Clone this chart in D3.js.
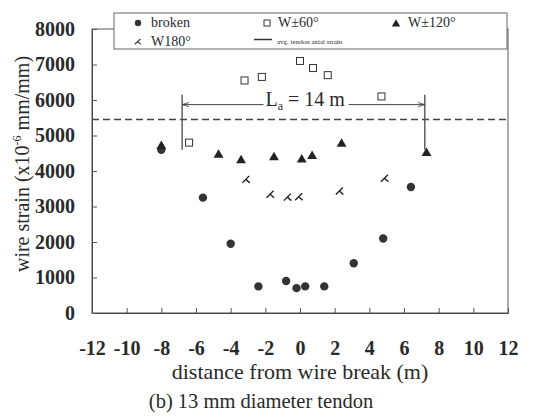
<!DOCTYPE html>
<html><head><meta charset="utf-8">
<script src="https://cdn.jsdelivr.net/npm/d3@7"></script>
<style>body{margin:0;background:#fff}svg{display:block}</style>
</head><body>
<svg id="c" width="555" height="420"></svg>
<script>
const xTicks = [-12,-10,-8,-6,-4,-2,0,2,4,6,8,10,12];
const yTicks = [0,1000,2000,3000,4000,5000,6000,7000,8000];
const brokenX = [-8.0,-5.6,-4.0,-2.4,-0.8,-0.2,0.3,1.4,3.1,4.8,6.4];
const brokenY = [4600,3250,1950,750,900,700,750,750,1400,2100,3550];
const w60X = [-6.4,-3.2,-2.2,0,0.75,1.6,4.7];
const w60Y = [4800,6550,6650,7100,6900,6700,6100];
const w120X = [-8.0,-4.7,-3.4,-1.5,0.1,0.7,2.4,7.3];
const w120Y = [4700,4450,4300,4380,4320,4420,4760,4500];
const w180X = [-3.1,-1.7,-0.7,-0.05,2.3,4.9];
const w180Y = [3750,3330,3250,3260,3420,3780];
const avgStrain = [5450];
const laRange = [-6.8, 7.2];
const laY = [4600, 6150, 5870];

const svg = d3.select("#c");
const x = d3.scaleLinear().domain([-12,12]).range([92,508]);
const y = d3.scaleLinear().domain([0,8000]).range([313,29]);
const serif = "'Liberation Serif','Times New Roman',serif";
const ink = "#2a2a2a";
const fmt = d => String(d);

// frame
svg.append("rect").attr("x",92).attr("y",29).attr("width",416).attr("height",284)
  .attr("fill","none").attr("stroke","#555").attr("stroke-width",1);

// axes
const xa = svg.append("g").attr("transform","translate(0,313)")
  .call(d3.axisBottom(x).tickValues(xTicks).tickSize(-5).tickPadding(28).tickFormat(fmt));
const ya = svg.append("g").attr("transform","translate(92,0)")
  .call(d3.axisLeft(y).tickValues(yTicks).tickSize(-5).tickPadding(17).tickFormat(fmt));
[xa,ya].forEach(a=>{
  a.select(".domain").attr("stroke","#444");
  a.selectAll(".tick line").attr("stroke","#555");
  a.selectAll("text").attr("font-family",serif).attr("font-weight","bold")
   .attr("font-size",20).attr("fill",ink);
});

// avg dashed line
svg.append("line").attr("x1",x(-12)).attr("x2",x(12)).attr("y1",y(avgStrain[0])).attr("y2",y(avgStrain[0]))
  .attr("stroke","#444").attr("stroke-width",1.6).attr("stroke-dasharray","7,4");

// La annotation
svg.append("defs").html('<marker id="ar" viewBox="0 0 10 10" refX="10" refY="5" markerWidth="7" markerHeight="7" orient="auto-start-reverse"><path d="M0,2 L10,5 L0,8" fill="none" stroke="#444" stroke-width="1.2"/></marker>');
[laRange[0],laRange[1]].forEach(v=>{
  svg.append("line").attr("x1",x(v)).attr("x2",x(v)).attr("y1",y(laY[1])).attr("y2",y(laY[0]))
    .attr("stroke","#555").attr("stroke-width",1.4);
});
svg.append("line").attr("x1",x(-2.1)).attr("x2",x(laRange[0])).attr("y1",y(laY[2])).attr("y2",y(laY[2]))
  .attr("stroke","#444").attr("stroke-width",1).attr("marker-end","url(#ar)");
svg.append("line").attr("x1",x(2.8)).attr("x2",x(laRange[1])).attr("y1",y(laY[2])).attr("y2",y(laY[2]))
  .attr("stroke","#444").attr("stroke-width",1).attr("marker-end","url(#ar)");
const la = svg.append("text").attr("x",x(0.3)).attr("y",y(laY[2])+1).attr("text-anchor","middle")
  .attr("font-family",serif).attr("font-size",20).attr("fill",ink);
la.append("tspan").text("L");
la.append("tspan").attr("font-size",12).attr("dy",4).text("a");
la.append("tspan").attr("dy",-4).text(" = 14 m");

// markers
const W180 = "M-4,3 L3,-4 M-0.5,-0.5 L3.5,3";
svg.append("g").selectAll("circle").data(brokenX).join("circle")
  .attr("cx",(d)=>x(d)).attr("cy",(d,i)=>y(brokenY[i])).attr("r",4.2).attr("fill","#333");
svg.append("g").selectAll("rect").data(w60X).join("rect")
  .attr("x",d=>x(d)-3.5).attr("y",(d,i)=>y(w60Y[i])-3.5).attr("width",7).attr("height",7)
  .attr("fill","#fff").attr("stroke","#333").attr("stroke-width",1);
const tri = d3.symbol().type(d3.symbolTriangle).size(42);
svg.append("g").selectAll("path").data(w120X).join("path")
  .attr("d",tri).attr("transform",(d,i)=>`translate(${x(d)},${y(w120Y[i])})`).attr("fill","#222");
svg.append("g").selectAll("path").data(w180X).join("path")
  .attr("d",W180).attr("transform",(d,i)=>`translate(${x(d)},${y(w180Y[i])})`)
  .attr("fill","none").attr("stroke","#222").attr("stroke-width",1.4);

// legend
const lg = svg.append("g");
lg.append("rect").attr("x",114).attr("y",13).attr("width",393).attr("height",36)
  .attr("fill","#fff").attr("stroke","#666").attr("stroke-width",1);
lg.append("circle").attr("cx",138).attr("cy",23).attr("r",3.2).attr("fill","#333");
lg.append("rect").attr("x",264).attr("y",20).attr("width",6).attr("height",6).attr("fill","#fff").attr("stroke","#333");
lg.append("path").attr("d",d3.symbol().type(d3.symbolTriangle).size(30)).attr("transform","translate(396,24)").attr("fill","#222");
lg.append("path").attr("d",W180).attr("transform","translate(138,42) scale(0.8)").attr("fill","none").attr("stroke","#222").attr("stroke-width",1.3);
lg.append("line").attr("x1",254).attr("x2",272).attr("y1",39.5).attr("y2",39.5).attr("stroke","#333").attr("stroke-width",1.5);
const lt = [["broken",151,27,14],["W\u00b160\u00b0",278,27,14],["W\u00b1120\u00b0",408,27,14],["W180\u00b0",151,46,14],["avg. tendon axial strain",277,44,7]];
lg.selectAll("text").data(lt).join("text").attr("x",d=>d[1]).attr("y",d=>d[2])
  .attr("font-family",serif).attr("font-size",d=>d[3]).attr("fill",ink).text(d=>d[0]);

// titles
svg.append("text").attr("x",300).attr("y",379).attr("text-anchor","middle")
  .attr("font-family",serif).attr("font-size",22).attr("fill",ink).text("distance from wire break (m)");
svg.append("text").attr("x",261).attr("y",408).attr("text-anchor","middle")
  .attr("font-family",serif).attr("font-size",20.5).attr("fill",ink).text("(b) 13 mm diameter tendon");
const yt = svg.append("text").attr("transform","translate(29,164) rotate(-90)").attr("text-anchor","middle")
  .attr("font-family",serif).attr("font-size",20).attr("fill",ink);
yt.append("tspan").text("wire strain (x10");
yt.append("tspan").attr("font-size",12).attr("dy",-8).text("-6");
yt.append("tspan").attr("dy",8).text(" mm/mm)");
</script>
</body></html>
